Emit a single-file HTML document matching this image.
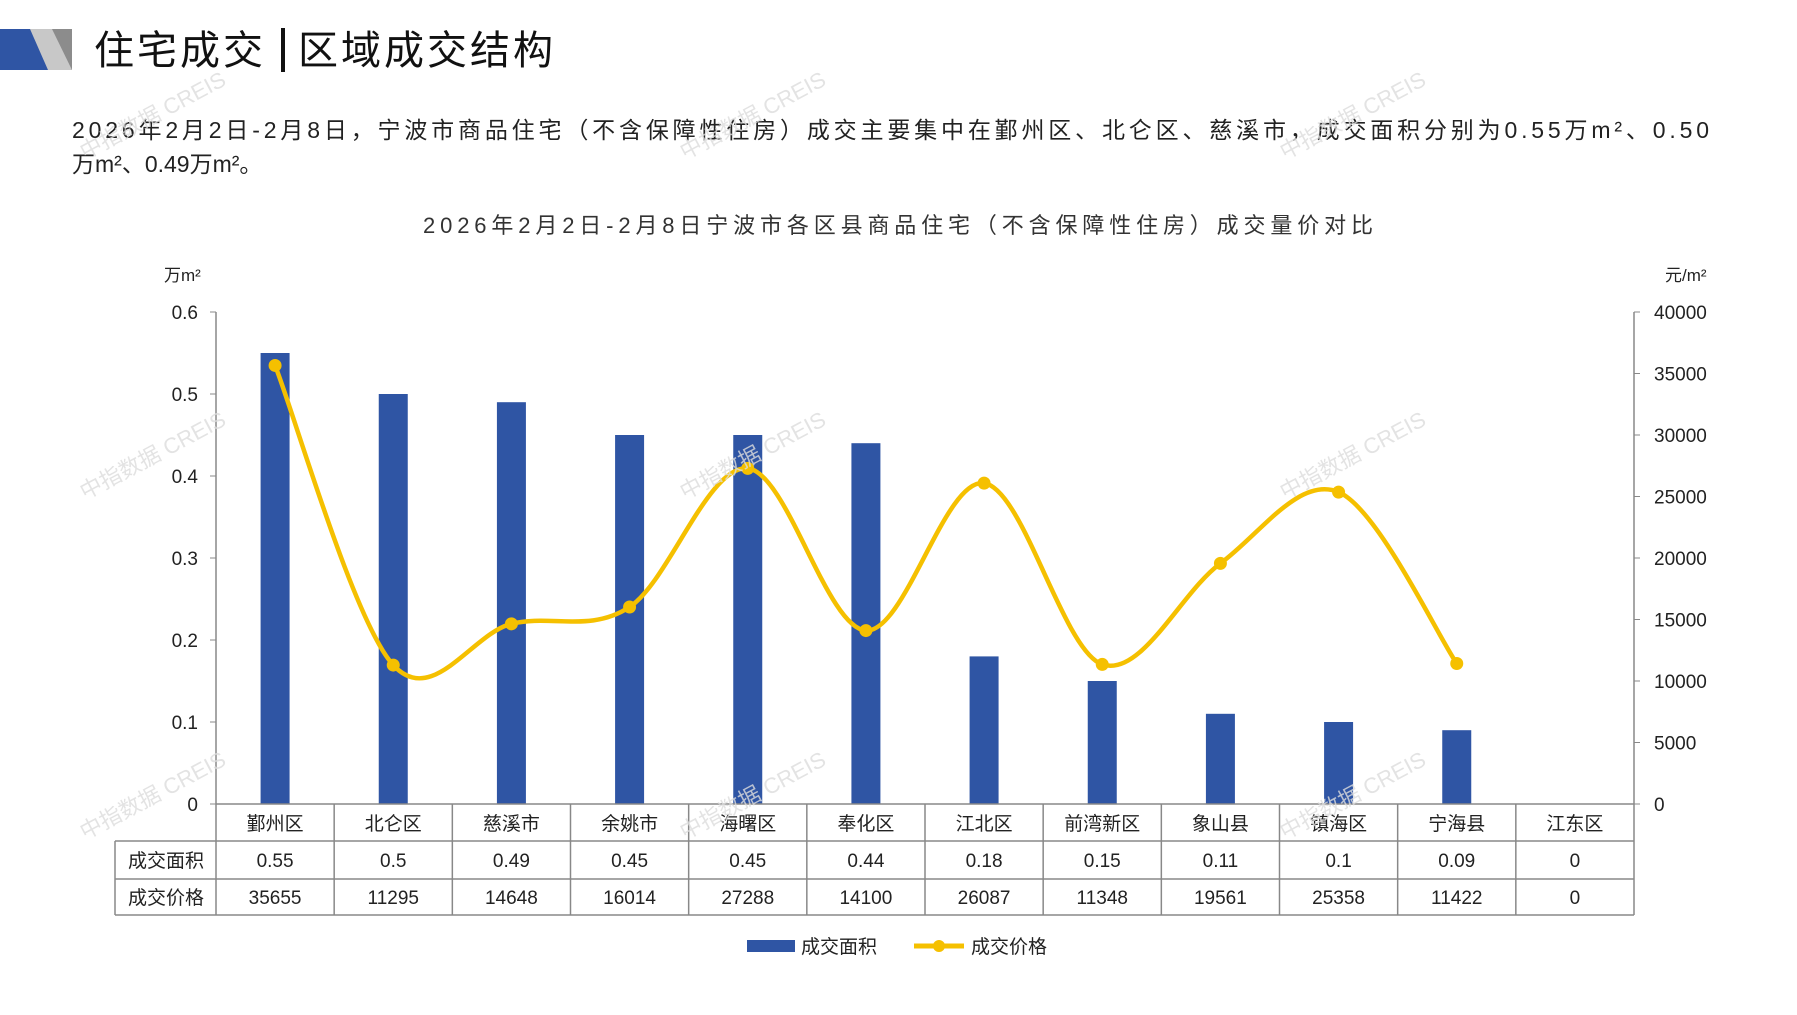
<!DOCTYPE html>
<html><head><meta charset="utf-8"><style>
body{margin:0;width:1797px;height:1010px;background:#fff;overflow:hidden;font-family:"Liberation Sans","Noto Sans CJK SC",sans-serif;}
</style></head><body>
<svg id="s" width="1797" height="1010" xmlns="http://www.w3.org/2000/svg" font-family="'Liberation Sans','Noto Sans CJK SC',sans-serif">
<polygon points="0,29 42,29 58,70 0,70" fill="#2f55a4"/>
<polygon points="30,29 72,29 72,70 48,70" fill="#c8c8c8"/>
<polygon points="52,29 72,29 72,70" fill="#8c8c8c"/>
<text x="94" y="64" font-size="40" fill="#111" letter-spacing="3">住宅成交</text>
<rect x="281" y="28" width="4" height="44" fill="#111"/>
<text x="298" y="64" font-size="40" fill="#111" letter-spacing="3">区域成交结构</text>
<text x="72" y="138" font-size="23" fill="#222" textLength="1637">2026年2月2日-2月8日，宁波市商品住宅（不含保障性住房）成交主要集中在鄞州区、北仑区、慈溪市，成交面积分别为0.55万m²、0.50</text>
<text x="72" y="172" font-size="23" fill="#222">万m²、0.49万m²。</text>
<text x="898" y="233" font-size="22" fill="#333" text-anchor="middle" textLength="950">2026年2月2日-2月8日宁波市各区县商品住宅（不含保障性住房）成交量价对比</text>
<text x="164" y="281" font-size="17" fill="#222">万m²</text>
<text x="1665" y="281" font-size="17" fill="#222">元/m²</text>
<g id="g"></g>
<g fill="#ddd" font-size="22" opacity="0.8">
<text transform="translate(85,500) rotate(-28)">中指数据 CREIS</text>
<text transform="translate(685,500) rotate(-28)">中指数据 CREIS</text>
<text transform="translate(1285,500) rotate(-28)">中指数据 CREIS</text>
<text transform="translate(85,840) rotate(-28)">中指数据 CREIS</text>
<text transform="translate(685,840) rotate(-28)">中指数据 CREIS</text>
<text transform="translate(1285,840) rotate(-28)">中指数据 CREIS</text>
<text transform="translate(85,160) rotate(-28)">中指数据 CREIS</text>
<text transform="translate(685,160) rotate(-28)">中指数据 CREIS</text>
<text transform="translate(1285,160) rotate(-28)">中指数据 CREIS</text>
</g>
<rect x="747" y="940" width="48" height="12" fill="#2f55a4"/>
<text x="801" y="953" font-size="19" fill="#222">成交面积</text>
<line x1="914" y1="946" x2="964" y2="946" stroke="#f5c000" stroke-width="5"/>
<circle cx="939" cy="946" r="6" fill="#f5c000"/>
<text x="971" y="953" font-size="19" fill="#222">成交价格</text>
</svg>
<script>
var ns="http://www.w3.org/2000/svg",g=document.getElementById("g");
function el(t,a,txt){var e=document.createElementNS(ns,t);for(var k in a)e.setAttribute(k,a[k]);if(txt!=null)e.textContent=txt;g.appendChild(e);return e;}
var names=["鄞州区","北仑区","慈溪市","余姚市","海曙区","奉化区","江北区","前湾新区","象山县","镇海区","宁海县","江东区"];
var area=["0.55","0.5","0.49","0.45","0.45","0.44","0.18","0.15","0.11","0.1","0.09","0"];
var price=[35655,11295,14648,16014,27288,14100,26087,11348,19561,25358,11422,0];
var L=216,R=1634,T=312,B=804,cw=(R-L)/12;
el("line",{x1:L,y1:T,x2:L,y2:B,stroke:"#888","stroke-width":1.5});
el("line",{x1:R,y1:T,x2:R,y2:B,stroke:"#888","stroke-width":1.5});
for(var i=0;i<=6;i++){var y=B-(B-T)*i/6;
el("line",{x1:L-6,y1:y,x2:L,y2:y,stroke:"#888"});
el("text",{x:198,y:y+7,"font-size":19,fill:"#222","text-anchor":"end"},i==0?"0":"0."+i);}
for(var i=0;i<=8;i++){var y=B-(B-T)*i/8;
el("line",{x1:R,y1:y,x2:R+6,y2:y,stroke:"#888"});
el("text",{x:1654,y:y+7,"font-size":19,fill:"#222"},String(i*5000));}
for(var i=0;i<12;i++){var cx=L+cw*(i+.5),v=parseFloat(area[i]);
if(v>0)el("rect",{x:cx-14.5,y:B-(B-T)*v/0.6,width:29,height:(B-T)*v/0.6,fill:"#2f55a4"});}
var r1=804,r2=841,r3=879,r4=915;
el("line",{x1:L,y1:r1,x2:R,y2:r1,stroke:"#888","stroke-width":1.5});
[r2,r3,r4].forEach(function(y){el("line",{x1:115,y1:y,x2:R,y2:y,stroke:"#888","stroke-width":1.5});});
el("line",{x1:115,y1:r2,x2:115,y2:r4,stroke:"#888","stroke-width":1.5});
for(var i=0;i<=12;i++){var x=L+cw*i;el("line",{x1:x,y1:r1,x2:x,y2:r4,stroke:"#888","stroke-width":1.5});}
el("text",{x:166,y:867,"font-size":19,fill:"#222","text-anchor":"middle"},"成交面积");
el("text",{x:166,y:904,"font-size":19,fill:"#222","text-anchor":"middle"},"成交价格");
for(var i=0;i<12;i++){var cx=L+cw*(i+.5);
el("text",{x:cx,y:830,"font-size":19,fill:"#222","text-anchor":"middle"},names[i]);
el("text",{x:cx,y:867,"font-size":19,fill:"#222","text-anchor":"middle"},area[i]);
el("text",{x:cx,y:904,"font-size":19,fill:"#222","text-anchor":"middle"},String(price[i]));}
var p=[];for(var i=0;i<11;i++)p.push([L+cw*(i+.5),B-(B-T)*price[i]/40000]);
var d="M"+p[0][0]+","+p[0][1];
for(var i=0;i<p.length-1;i++){var p0=p[Math.max(i-1,0)],p1=p[i],p2=p[i+1],p3=p[Math.min(i+2,p.length-1)];
var t=1/6;d+=" C"+(p1[0]+(p2[0]-p0[0])*t)+","+(p1[1]+(p2[1]-p0[1])*t)+" "+(p2[0]-(p3[0]-p1[0])*t)+","+(p2[1]-(p3[1]-p1[1])*t)+" "+p2[0]+","+p2[1];}
el("path",{d:d,fill:"none",stroke:"#f5c000","stroke-width":4.5});
p.forEach(function(q){el("circle",{cx:q[0],cy:q[1],r:6.5,fill:"#f5c000"});});
</script>
</body></html>
